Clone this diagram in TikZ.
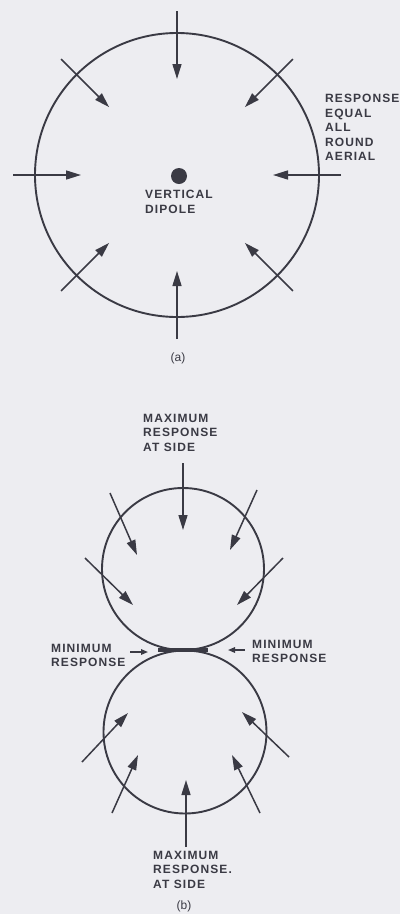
\documentclass[tikz,border=0pt]{standalone}
\usepackage{fontspec}
\usepackage{tikz}
\usetikzlibrary{arrows.meta,positioning}
\newfontfamily\labelfont[LetterSpace=9]{Liberation Sans}
\newfontfamily\captionfont{Liberation Sans}
\definecolor{inkGray}{RGB}{58,58,68}
\definecolor{paperGray}{RGB}{237,237,241}
\tikzset{
  ring/.style={circle,draw=inkGray,line width=1.9pt,inner sep=0pt},
  wave arrow/.style={-{Triangle[length=15pt,width=9pt]},line width=1.5pt,draw=inkGray},
  small arrow/.style={-{Triangle[length=7pt,width=5.5pt]},line width=1.5pt,draw=inkGray},
  pattern label/.style={anchor=north west,inner sep=0pt,align=left,text=inkGray,font=\labelfont\bfseries\fontsize{12}{14.5}\selectfont},
  figure label/.style={inner sep=0pt,text=inkGray,font=\captionfont\fontsize{12}{13}\selectfont}
}

\begin{document}
\begin{tikzpicture}[x=1pt,y=-1pt]
    \fill[paperGray] (0,0) rectangle (400,914);
    \useasboundingbox (0,0) rectangle (400,914);
    % (a) vertical dipole
    \node[ring,minimum size=284pt] (ringA) at (177,175) {};
    \node[circle,fill=inkGray,inner sep=0pt,minimum size=16pt] (dipoleA) at (179,176) {};
    \foreach \ang in {0,45,...,315}{
      \coordinate (a-from-\ang) at ([shift={(\ang:164)}]ringA.center);
      \coordinate (a-to-\ang) at ([shift={(\ang:96)}]ringA.center);
      \draw[wave arrow] (a-from-\ang) -- (a-to-\ang);
    }
    \node[pattern label] (equal) at (325,94) {RESPONSE\\EQUAL\\ALL\\ROUND\\AERIAL};
    \node[pattern label] (vertical) at (145,190) {VERTICAL\\DIPOLE};
    \node[figure label] (capA) at (178,358) {(a)};
    % (b) horizontal dipole, figure of eight
    \node[ring,minimum size=162pt] (lobeTop) at (183,569) {};
    \node[ring,minimum size=163pt] (lobeBottom) at (185,732) {};
    \node[fill=inkGray,inner sep=0pt,minimum width=50pt,minimum height=4pt] (dipoleB) at (183,650) {};
    \foreach \name/\sx/\sy/\ex/\ey in {
        t1/183/463/183/530, t2/110/493/137/555, t3/257/490/230/550,
        t4/85/558/133/605, t5/283/558/237/605,
        u1/82/762/128/713, u2/112/813/138/755, u3/186/847/186/780,
        u4/260/813/232/755, u5/289/757/242/712}{
      \coordinate (\name-from) at (\sx,\sy);
      \coordinate (\name-to) at (\ex,\ey);
      \draw[wave arrow] (\name-from) -- (\name-to);
    }
    \coordinate (m1-from) at (130,652);
    \coordinate (m1-to) at (148,652);
    \coordinate (m2-from) at (245,650);
    \coordinate (m2-to) at (228,650);
    \draw[small arrow] (m1-from) -- (m1-to);
    \draw[small arrow] (m2-from) -- (m2-to);
    \node[pattern label] (maxTop) at (143,414) {MAXIMUM\\RESPONSE\\AT SIDE};
    \node[pattern label] (minLeft) at (51,644) {MINIMUM\\RESPONSE};
    \node[pattern label] (minRight) at (252,640) {MINIMUM\\RESPONSE};
    \node[pattern label] (maxBottom) at (153,851) {MAXIMUM\\RESPONSE.\\AT SIDE};
    \node[figure label] (capB) at (184,906) {(b)};
  \end{tikzpicture}
\end{document}
